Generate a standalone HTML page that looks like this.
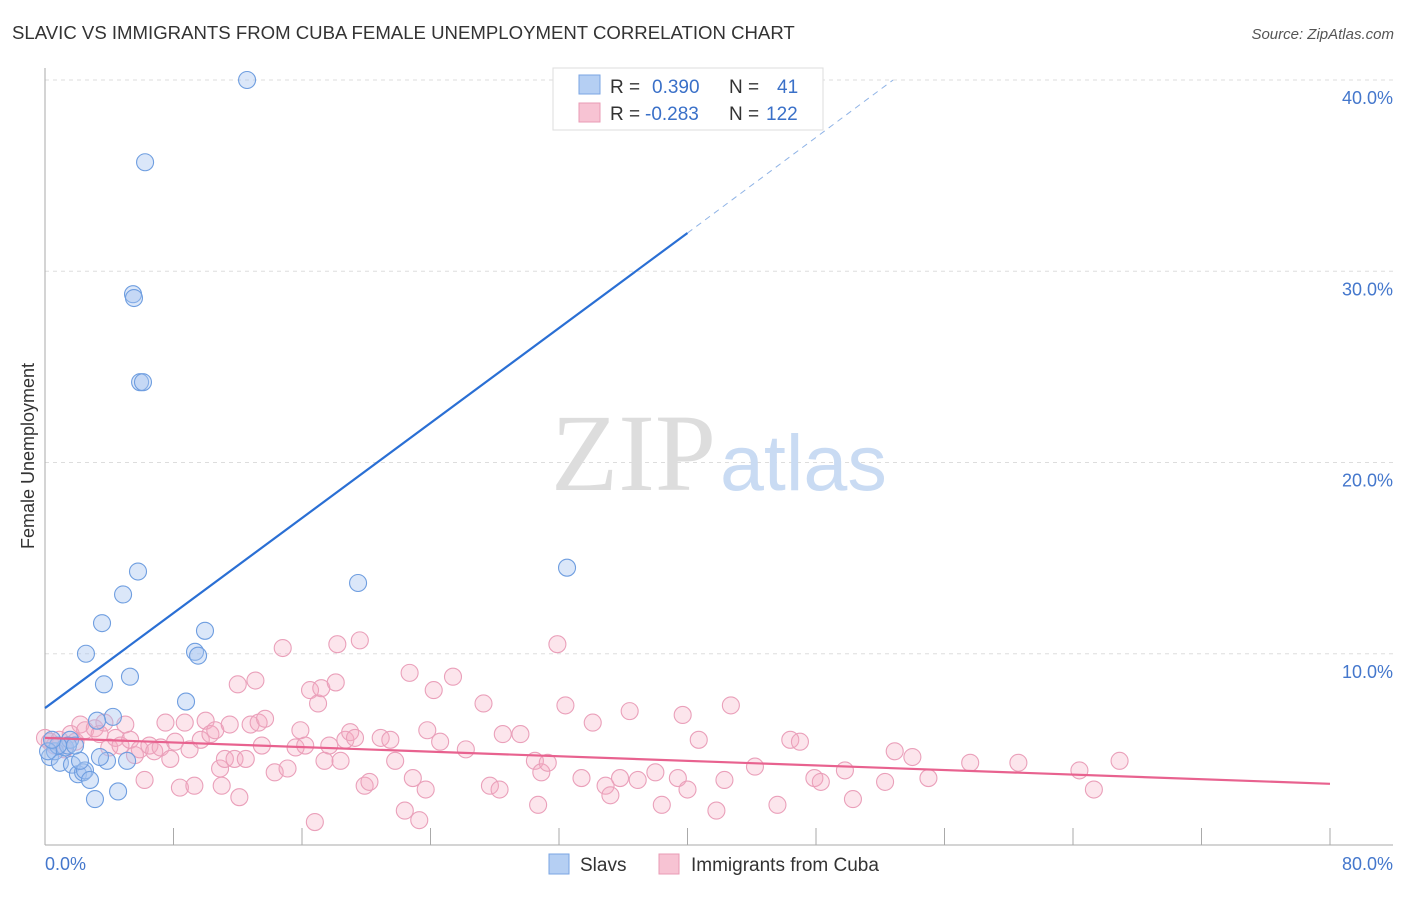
<!DOCTYPE html>
<html><head><meta charset="utf-8"><style>
body{margin:0;background:#fff;font-family:"Liberation Sans",sans-serif}
</style></head><body>
<svg width="1406" height="892" xmlns="http://www.w3.org/2000/svg" font-family="Liberation Sans, sans-serif">
<text x="12" y="39" font-size="18.6" fill="#333">SLAVIC VS IMMIGRANTS FROM CUBA FEMALE UNEMPLOYMENT CORRELATION CHART</text>
<text x="1394" y="39" font-size="15" fill="#555" text-anchor="end" font-style="italic">Source: ZipAtlas.com</text>
<g id="grid"></g>
<text x="716" y="490" font-size="110" fill="#ddd" text-anchor="end" font-family="Liberation Serif, serif">ZIP</text>
<text x="720" y="490" font-size="79" fill="#c9dbf3">atlas</text>
<g id="axes"></g>
<g id="pts"></g>
<g id="lines"></g>
<text transform="translate(34,456) rotate(-90)" font-size="18" fill="#333" text-anchor="middle">Female Unemployment</text>
<g>
<rect x="553" y="68" width="270" height="62" fill="#fff" stroke="#ddd"/>
<rect x="579" y="75" width="21" height="19" fill="#b5cff3" stroke="#7aa5e3"/>
<rect x="579" y="103" width="21" height="19" fill="#f7c3d3" stroke="#ea9bb5"/>
<text x="610" y="93" font-size="19" fill="#333">R = <tspan fill="#3a70c8" x="652">0.390</tspan><tspan x="729">N =</tspan><tspan fill="#3a70c8" x="777">41</tspan></text>
<text x="610" y="120" font-size="19" fill="#333">R = <tspan fill="#3a70c8" x="645">-0.283</tspan><tspan x="729">N =</tspan><tspan fill="#3a70c8" x="766">122</tspan></text>
</g>
<g>
<rect x="549" y="854" width="20" height="20" fill="#b5cff3" stroke="#7aa5e3"/>
<text x="580" y="871" font-size="19" fill="#333">Slavs</text>
<rect x="659" y="854" width="20" height="20" fill="#f7c3d3" stroke="#ea9bb5"/>
<text x="691" y="871" font-size="19" fill="#333">Immigrants from Cuba</text>
</g>
</svg>
<script>
const yTicks=[10,20,30,40];
const yTickLabels=["10.0%","20.0%","30.0%","40.0%"];
const xTickVals=[0,8,16,24,32,40,48,56,64,72,80];
const xEndLabels=["0.0%","80.0%"];
const slavX=[12.58,6.23,5.48,5.54,5.92,6.10,5.79,4.86,3.55,2.55,9.34,9.53,9.96,19.49,32.50,5.29,3.67,8.78,4.23,3.24,0.31,0.62,0.93,1.25,1.56,1.68,2.05,2.37,2.49,2.80,3.11,4.55,5.11,3.86,3.42,2.18,1.43,0.81,0.19,0.44,1.87];
const slavY=[40.0,35.7,28.8,28.6,24.2,24.2,14.3,13.1,11.6,10.0,10.1,9.9,11.2,13.7,14.5,8.8,8.4,7.5,6.7,6.5,4.6,4.9,4.3,5.1,5.5,4.2,3.7,3.8,3.9,3.4,2.4,2.8,4.4,4.4,4.6,4.4,5.2,5.2,4.9,5.5,5.2];
const cubaX=[0,0.3,0.6,0.9,1.2,1.6,1.9,2.2,2.5,3.1,3.4,3.7,4.0,4.4,4.7,5.0,5.3,5.6,5.9,6.2,6.5,6.8,7.2,7.5,7.8,8.1,8.4,8.7,9.0,9.3,9.7,10.0,10.3,10.6,10.9,11.0,11.2,11.5,11.8,12.0,12.1,12.5,12.8,13.1,13.3,13.5,13.7,14.3,14.8,15.1,15.6,15.9,16.2,16.5,16.8,17.0,17.2,17.4,17.7,18.1,18.4,18.2,18.7,19.0,19.3,19.6,19.9,20.2,20.9,21.5,21.8,22.4,22.7,22.9,23.3,23.7,24.2,23.8,24.6,25.4,26.2,27.3,27.7,28.3,28.5,29.6,30.5,30.7,30.9,31.3,31.9,32.4,33.4,34.1,34.9,35.2,35.8,36.4,36.9,38.0,38.4,39.4,39.7,40.0,40.7,41.8,42.3,42.7,44.2,45.6,46.4,47.0,47.9,48.3,49.8,50.3,52.3,52.9,54.0,55.0,57.6,60.6,64.4,65.3,66.9];
const cubaY=[5.6,5.4,5.2,5.5,5.0,5.8,5.4,6.3,6.0,6.1,5.8,6.4,5.1,5.6,5.2,6.3,5.5,4.7,5.0,3.4,5.2,4.9,5.1,6.4,4.5,5.4,3.0,6.4,5.0,3.1,5.5,6.5,5.8,6.0,4.0,3.1,4.5,6.3,4.5,8.4,2.5,4.5,6.3,8.6,6.4,5.2,6.6,3.8,10.3,4.0,5.1,6.0,5.2,8.1,1.2,7.4,8.2,4.4,5.2,8.5,4.4,10.5,5.5,5.9,5.6,10.7,3.1,3.3,5.6,5.5,4.4,1.8,9.0,3.5,1.3,2.9,8.1,6.0,5.4,8.8,5.0,7.4,3.1,2.9,5.8,5.8,4.4,2.1,3.8,4.3,10.5,7.3,3.5,6.4,3.1,2.6,3.5,7.0,3.4,3.8,2.1,3.5,6.8,2.9,5.5,1.8,3.4,7.3,4.1,2.1,5.5,5.4,3.5,3.3,3.9,2.4,3.3,4.9,4.6,3.5,4.3,4.3,3.9,2.9,4.4];
const slavTrend=[[0,7.16],[40,32.0]];
const slavTrendExt=[[40,32.0],[52.8,40.0]];
const cubaTrend=[[0,5.6],[80,3.2]];
const NS="http://www.w3.org/2000/svg";
const sx=v=>45+v*(1330-45)/80;
const sy=v=>845-v*(845-80)/40;
function mk(tag,attrs,parent){const e=document.createElementNS(NS,tag);for(const k in attrs)e.setAttribute(k,attrs[k]);parent.appendChild(e);return e;}
const grid=document.getElementById('grid'),axes=document.getElementById('axes'),pts=document.getElementById('pts'),lines=document.getElementById('lines');
yTicks.forEach((t,i)=>{
 const l=mk('line',{x1:45,x2:1393,y1:sy(t),y2:sy(t),stroke:'#ddd','stroke-dasharray':'4,4'},grid);
 
 
 const tx=mk('text',{x:1393,y:sy(t)+24,'font-size':18,fill:'#4477cc','text-anchor':'end'},axes);
 tx.textContent=yTickLabels[i];
 
 
});
mk('line',{x1:45,x2:45,y1:68,y2:845,stroke:'#aaa'},axes);
mk('line',{x1:45,x2:1393,y1:845,y2:845,stroke:'#aaa'},axes);
xTickVals.forEach(t=>{const l=mk('line',{x1:sx(t),x2:sx(t),y1:828,y2:845,stroke:'#aaa'},axes);
 
 });
const xl0=mk('text',{x:45,y:870,'font-size':18,fill:'#4477cc'},axes);xl0.textContent=xEndLabels[0];


const xl1=mk('text',{x:1393,y:870,'font-size':18,fill:'#4477cc','text-anchor':'end'},axes);xl1.textContent=xEndLabels[1];


cubaX.forEach((x,i)=>{const c=mk('circle',{cx:sx(x),cy:sy(cubaY[i]),r:8.5,fill:'rgba(244,168,192,0.3)',stroke:'#eaa0ba','stroke-width':1.1},pts);
 
 });
slavX.forEach((x,i)=>{const c=mk('circle',{cx:sx(x),cy:sy(slavY[i]),r:8.5,fill:'rgba(164,194,240,0.4)',stroke:'#6f9ee0','stroke-width':1.1},pts);
 
 });
const t1=mk('line',{x1:sx(slavTrend[0][0]),y1:sy(slavTrend[0][1]),x2:sx(slavTrend[1][0]),y2:sy(slavTrend[1][1]),stroke:'#2a6fd4','stroke-width':2.2},lines);


const t2=mk('line',{x1:sx(slavTrendExt[0][0]),y1:sy(slavTrendExt[0][1]),x2:sx(slavTrendExt[1][0]),y2:sy(slavTrendExt[1][1]),stroke:'#8fb3e6','stroke-width':1,'stroke-dasharray':'6,5'},lines);


const t3=mk('line',{x1:sx(cubaTrend[0][0]),y1:sy(cubaTrend[0][1]),x2:sx(cubaTrend[1][0]),y2:sy(cubaTrend[1][1]),stroke:'#e8628f','stroke-width':2.2},lines);


</script>
</body></html>
